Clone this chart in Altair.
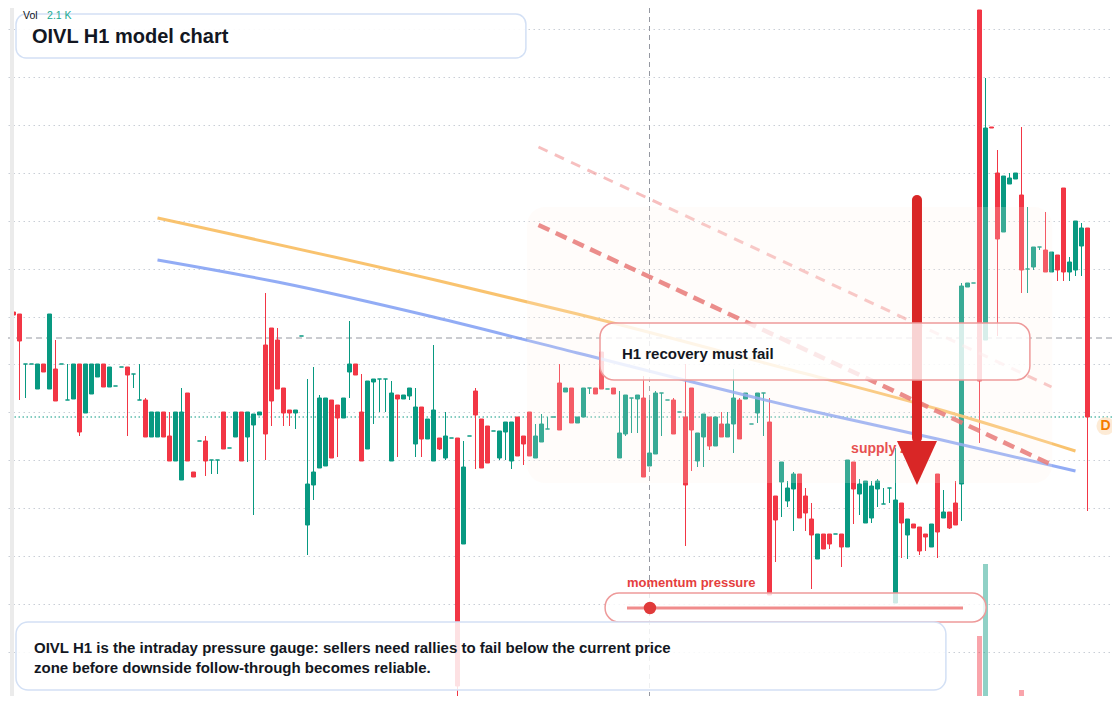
import altair as alt
import pandas as pd

# --- candles (H1 bars, index 0..179), prices ---
opens = [
    4.88, 4.86, 4.36, 4.36, 4.11, 4.36, 4.11, 4.31, 4.36, 4.00,
    4.01, 4.36, 3.87, 4.06, 4.23, 4.36, 4.13, 4.14, 4.33, 4.33,
    4.26, 4.00, 4.00, 3.63, 3.63, 3.88, 3.64, 3.39, 3.20, 4.07,
    3.28, 3.59, 3.59, 3.40, 3.40, 3.88, 3.52, 3.63, 3.88, 3.63,
    3.75, 3.85, 4.55, 4.72, 4.60, 4.12, 3.90, 3.87, 4.64, 2.75,
    3.15, 3.32, 3.34, 4.00, 3.95, 3.82, 4.28, 4.36, 3.88, 3.51,
    4.18, 4.21, 4.21, 3.39, 4.05, 4.01, 4.04, 3.56, 3.93, 3.61,
    3.39, 3.62, 3.42, 3.62, 3.62, 2.56, 3.64, 4.09, 3.81, 3.74,
    3.69, 3.42, 3.68, 3.39, 3.83, 3.64, 3.88, 3.42, 3.58, 3.71,
    3.83, 4.17, 4.08, 4.12, 3.77, 3.83, 4.12, 4.12, 4.48, 4.11,
    4.12, 3.42, 3.66, 4.02, 4.01, 4.02, 3.34, 3.46, 4.07, 4.00,
    4.00, 3.88, 3.83, 4.12, 3.39, 3.63, 3.83, 3.54, 3.76, 3.63,
    3.76, 4.00, 4.01, 3.76, 3.87, 4.07, 3.78, 3.04, 3.18, 2.99,
    3.11, 3.26, 3.04, 2.81, 2.41, 2.66, 2.66, 2.66, 2.66, 2.53,
    3.38, 3.06, 2.77, 2.82, 3.11, 2.96, 3.12, 1.97, 2.97, 2.65,
    2.76, 2.73, 2.66, 2.53, 3.26, 2.82, 2.88, 2.97, 3.16, 5.13,
    5.17, 7.90, 4.60, 6.73, 6.27, 5.68, 6.16, 6.21, 6.05, 5.31,
    5.33, 5.53, 5.50, 5.28, 5.45, 6.12, 5.28, 5.30, 5.54, 5.72,
]
closes = [
    4.85, 4.59, 4.36, 4.36, 4.36, 4.28, 4.86, 3.99, 4.36, 4.00,
    4.36, 3.68, 4.36, 4.36, 4.36, 4.13, 4.33, 4.14, 4.33, 4.25,
    4.26, 4.00, 3.63, 3.88, 3.88, 3.63, 3.39, 3.88, 3.88, 3.39,
    3.23, 3.59, 3.39, 3.40, 3.40, 3.51, 3.52, 3.88, 3.39, 3.88,
    3.86, 3.88, 3.66, 3.99, 4.11, 3.87, 3.87, 3.90, 4.64, 3.16,
    3.28, 4.02, 4.02, 3.42, 3.82, 4.02, 4.36, 4.25, 3.39, 4.19,
    4.21, 4.21, 4.21, 4.07, 4.01, 4.05, 4.12, 3.93, 3.61, 3.81,
    3.90, 3.51, 3.64, 3.62, 1.14, 3.33, 3.64, 3.85, 3.32, 3.37,
    3.69, 3.69, 3.78, 3.78, 3.44, 3.56, 3.44, 3.64, 3.76, 3.71,
    3.83, 3.70, 4.12, 3.77, 3.83, 4.12, 4.12, 4.06, 4.11, 4.11,
    4.06, 3.67, 4.05, 4.02, 4.05, 3.23, 3.47, 4.07, 4.07, 4.00,
    3.66, 3.88, 3.15, 3.70, 3.67, 3.86, 3.54, 3.83, 3.63, 3.76,
    4.02, 3.61, 4.07, 3.76, 4.07, 4.07, 2.05, 2.80, 3.38, 3.12,
    3.26, 2.82, 2.87, 2.65, 2.66, 2.51, 2.56, 2.66, 2.53, 3.40,
    3.11, 3.16, 3.19, 3.14, 3.19, 2.96, 3.12, 3.00, 2.77, 2.81,
    2.72, 2.49, 2.63, 2.76, 2.68, 2.88, 2.72, 2.75, 5.14, 5.17,
    5.17, 4.19, 6.72, 6.72, 5.61, 6.24, 6.22, 6.27, 5.30, 5.31,
    5.53, 5.53, 5.28, 5.48, 5.30, 5.28, 5.38, 5.79, 5.72, 3.83,
]
highs = [
    4.88, 4.86, 4.36, 4.36, 4.36, 4.36, 4.86, 4.60, 4.36, 4.36,
    4.36, 4.36, 4.36, 4.36, 4.36, 4.36, 4.33, 4.14, 4.33, 4.33,
    4.26, 4.36, 4.02, 3.88, 3.88, 3.88, 3.88, 3.88, 4.12, 4.07,
    3.28, 3.59, 3.64, 3.40, 3.40, 3.88, 3.52, 3.88, 3.88, 3.88,
    3.86, 3.88, 5.07, 4.72, 4.72, 4.12, 3.90, 3.90, 4.64, 4.21,
    4.33, 4.05, 4.02, 4.00, 3.95, 4.02, 4.79, 4.36, 4.26, 4.19,
    4.21, 4.21, 4.21, 4.19, 4.05, 4.05, 4.12, 4.12, 3.93, 3.81,
    4.55, 3.62, 3.88, 3.62, 3.62, 3.59, 3.64, 4.12, 3.81, 3.74,
    3.69, 3.69, 3.78, 3.78, 3.83, 3.64, 3.88, 3.76, 3.86, 3.83,
    3.83, 4.36, 4.12, 4.12, 3.83, 4.12, 4.12, 4.12, 4.48, 4.11,
    4.12, 4.09, 4.05, 4.02, 4.05, 4.24, 4.00, 4.09, 4.07, 4.00,
    4.02, 3.88, 4.36, 4.12, 3.67, 3.86, 3.83, 3.83, 3.88, 3.88,
    4.31, 4.02, 4.07, 3.76, 4.07, 4.07, 4.02, 3.04, 3.38, 3.19,
    3.28, 3.26, 3.12, 2.97, 2.66, 2.66, 2.66, 2.66, 2.66, 3.40,
    3.38, 3.21, 3.19, 3.19, 3.21, 3.12, 3.12, 3.52, 2.97, 2.81,
    2.76, 2.73, 2.66, 2.76, 3.26, 3.10, 2.88, 3.19, 5.17, 5.17,
    5.17, 7.90, 7.22, 6.73, 6.50, 6.24, 6.27, 6.27, 6.73, 5.93,
    5.53, 5.53, 5.88, 5.48, 5.45, 6.12, 5.43, 5.79, 5.77, 5.72,
]
lows = [
    4.85, 4.00, 4.02, 4.36, 4.11, 4.28, 4.11, 3.99, 4.36, 4.00,
    4.01, 3.64, 3.87, 4.06, 4.23, 4.13, 4.13, 4.14, 4.33, 3.64,
    4.12, 4.00, 3.63, 3.63, 3.63, 3.63, 3.39, 3.39, 3.20, 3.39,
    3.23, 3.59, 3.24, 3.26, 3.26, 3.51, 3.52, 3.63, 3.39, 3.38,
    2.85, 3.85, 3.40, 3.74, 4.11, 3.74, 3.74, 3.71, 4.64, 2.45,
    3.00, 3.32, 3.34, 3.42, 3.43, 3.82, 4.02, 4.25, 3.39, 3.51,
    3.76, 3.88, 3.88, 3.39, 3.43, 4.01, 4.00, 3.43, 3.43, 3.61,
    3.39, 3.50, 3.40, 3.62, 1.00, 2.56, 3.64, 3.31, 3.32, 3.37,
    3.69, 3.40, 3.40, 3.31, 3.44, 3.35, 3.44, 3.42, 3.58, 3.71,
    3.83, 3.70, 4.08, 3.77, 3.77, 3.83, 4.06, 4.06, 4.11, 4.11,
    4.06, 3.42, 3.64, 3.67, 3.67, 3.23, 3.34, 3.46, 3.64, 4.00,
    3.66, 3.88, 2.54, 3.29, 3.33, 3.33, 3.50, 3.54, 3.63, 3.63,
    3.47, 3.61, 4.01, 3.76, 3.77, 3.64, 2.05, 2.38, 2.83, 2.93,
    2.69, 2.82, 2.69, 2.11, 2.41, 2.51, 2.51, 2.66, 2.33, 2.53,
    2.76, 2.85, 2.77, 2.77, 2.93, 2.96, 2.97, 1.97, 2.42, 2.41,
    2.72, 2.45, 2.49, 2.53, 2.42, 2.82, 2.71, 2.75, 2.79, 5.13,
    5.17, 3.57, 4.60, 6.72, 4.64, 5.68, 6.16, 6.21, 5.07, 5.07,
    5.30, 5.50, 5.28, 5.28, 5.19, 5.19, 5.19, 5.24, 5.24, 2.89,
]

# volume (K) for the bars that reach into view
vol_idx = [161, 162, 164, 168, 169]
vol_k = [6.8, 14.0, 0.4, 1.4, 0.6]

# time-axis session lines and price-scale levels
time_grid = [7, 21, 42, 56, 70, 84, 98, 112, 126, 140, 154, 168]
price_grid = [7.71, 7.23, 6.75, 6.27, 5.79, 5.31, 4.83, 4.36, 3.88, 3.40,
              2.92, 2.44, 1.96, 1.48, 1.00]

crosshair_idx = 106
crosshair_price = 4.62
last_price = 3.83

# model curves
orange_idx = [24, 71, 94, 129, 154, 177]
orange_val = [5.82, 5.19, 4.86, 4.31, 3.91, 3.49]
blue_idx = [24, 44, 70, 94, 133, 154, 177]
blue_val = [5.40, 5.18, 4.83, 4.47, 3.89, 3.61, 3.29]

# trend lines (start / end)
trend_idx = [87.5, 173.5]
trend_val = [5.75, 3.34]
upper_idx = [87.5, 173.0]
upper_val = [6.53, 4.13]

TEAL = "#089981"
RED = "#f23645"
FONT = "Liberation Sans"
INK = "#131722"

xs = alt.Scale(domain=[-0.9167, 183.0833], nice=False, zero=False, padding=0)
ys = alt.Scale(domain=[1.04, 7.92], nice=False, zero=False, padding=0)
dir_scale = alt.Scale(domain=["up", "down"], range=[TEAL, RED])

candles = pd.DataFrame({
    "i": list(range(len(opens))),
    "open": opens, "high": highs, "low": lows, "close": closes,
})
candles["dir"] = ["up" if c >= o else "down" for o, c in zip(opens, closes)]

vol = pd.DataFrame({"i": vol_idx, "v": vol_k})
vol["dir"] = [candles.loc[i, "dir"] for i in vol_idx]


def X(field="i"):
    return alt.X(f"{field}:Q", scale=xs, axis=None)


def Y(field):
    return alt.Y(f"{field}:Q", scale=ys, axis=None)


def box(x0, x1, p0, p1):
    return pd.DataFrame({"x0": [x0], "x1": [x1], "p0": [p0], "p1": [p1]})


def rect(df, **kw):
    return alt.Chart(df).mark_rect(**kw).encode(
        x=X("x0"), x2="x1", y=Y("p0"), y2="p1"
    )


def label(x, p, txt, **kw):
    df = pd.DataFrame({"x": [x], "p": [p], "t": [txt]})
    return alt.Chart(df).mark_text(
        align="left", baseline="alphabetic", font=FONT, **kw
    ).encode(x=X("x"), y=Y("p"), text="t:N")


# grid (axes only, no labels)
grid = alt.Chart(pd.DataFrame({"i": [0], "p": [4.0]})).mark_point(opacity=0).encode(
    x=alt.X("i:Q", scale=xs, axis=alt.Axis(
        values=time_grid, grid=True, gridDash=[1.5, 3.5], gridColor="#c9ced6",
        labels=False, ticks=False, domain=False, title=None)),
    y=alt.Y("p:Q", scale=ys, axis=alt.Axis(
        values=price_grid, grid=True, gridDash=[1.5, 3.5], gridColor="#c9ced6",
        labels=False, ticks=False, domain=False, title=None)),
)

cross_v = alt.Chart(pd.DataFrame({"i": [crosshair_idx]})).mark_rule(
    color="#9598a1", strokeDash=[5, 4], strokeWidth=1).encode(x=X())
cross_h = alt.Chart(pd.DataFrame({"p": [crosshair_price]})).mark_rule(
    color="#9598a1", strokeDash=[6, 4], strokeWidth=1).encode(y=Y("p"))
price_line = alt.Chart(pd.DataFrame({"p": [last_price]})).mark_rule(
    color=TEAL, strokeDash=[1.5, 2.5], strokeWidth=1).encode(y=Y("p"))

wicks = alt.Chart(candles).mark_rule(strokeWidth=1).encode(
    x=X(), y=Y("low"), y2="high",
    color=alt.Color("dir:N", scale=dir_scale, legend=None),
)
bodies = alt.Chart(candles).mark_bar(size=4, strokeWidth=1).encode(
    x=X(), y=Y("open"), y2="close",
    color=alt.Color("dir:N", scale=dir_scale, legend=None),
    stroke=alt.Stroke("dir:N", scale=dir_scale, legend=None),
)

volume = alt.Chart(vol).mark_bar(size=5, opacity=0.45, clip=True).encode(
    x=X(),
    y=alt.Y("v:Q", scale=alt.Scale(domain=[0.8, 69.6], nice=False, zero=False, padding=0),
            axis=None),
    y2=alt.datum(0),
    color=alt.Color("dir:N", scale=dir_scale, legend=None),
)

left_strip = alt.Chart(pd.DataFrame({"x0": [-0.58], "x1": [0.08]})).mark_rect(
    color="#ebebeb").encode(x=X("x0"), x2="x1")

orange = alt.Chart(pd.DataFrame({"i": orange_idx, "p": orange_val})).mark_line(
    color="#f8bd5f", strokeWidth=3, interpolate="monotone", opacity=0.9
).encode(x=X(), y=Y("p"))
blue = alt.Chart(pd.DataFrame({"i": blue_idx, "p": blue_val})).mark_line(
    color="#7f9ef3", strokeWidth=3, interpolate="monotone", opacity=0.85
).encode(x=X(), y=Y("p"))
trend = alt.Chart(pd.DataFrame({"i": trend_idx, "p": trend_val})).mark_line(
    color="#e35d5d", strokeWidth=4.5, strokeDash=[12, 7], opacity=0.85
).encode(x=X(), y=Y("p"))
upper = alt.Chart(pd.DataFrame({"i": upper_idx, "p": upper_val})).mark_line(
    color="#ef8080", strokeWidth=3, strokeDash=[10, 8], opacity=0.5
).encode(x=X(), y=Y("p"))

zone = rect(box(85.6, 173.1, 5.93, 3.17), color="#fdf0e4", opacity=0.2, cornerRadius=18)

supply = label(139.6, 3.47, "supply zone", fontSize=14, fontWeight="bold",
               color="#e53e3e", opacity=0.9)
shaft = alt.Chart(pd.DataFrame({"i": [150.58], "p0": [6.00], "p1": [3.62]})).mark_rule(
    color="#d92626", strokeWidth=10, strokeCap="round").encode(x=X(), y=Y("p0"), y2="p1")
head = alt.Chart(pd.DataFrame({"i": [150.58], "p": [3.37]})).mark_point(
    shape="M-1,-1.1L1,-1.1L0,1.1Z", size=1600, filled=True, opacity=1,
    color="#d92626").encode(x=X(), y=Y("p"))

title_box = rect(box(0.42, 85.4, 7.86, 7.42), fill="white", fillOpacity=0.9,
                 stroke="#d3e0f5", strokeWidth=1.5, cornerRadius=10)
title = label(3.08, 7.57, "OIVL H1 model chart", fontSize=20, fontWeight="bold", color=INK)

h1_box = rect(box(97.75, 169.4, 4.77, 4.20), fill="white", fillOpacity=0.8,
              stroke="#ee9a9a", strokeWidth=1.5, cornerRadius=14)
h1_text = label(101.4, 4.41, "H1 recovery must fail", fontSize=15, fontWeight="bold", color=INK)

mom_text = label(102.25, 2.13, "momentum pressure", fontSize=13, fontWeight="bold", color="#e53e3e")
slider_box = rect(box(98.6, 162.1, 2.07, 1.78), fill="white", fillOpacity=0.8,
                  stroke="#ee9a9a", strokeWidth=1.5, cornerRadius=14)
slider = alt.Chart(pd.DataFrame({"x0": [102.25], "x1": [158.25], "p": [1.92]})).mark_rule(
    color="#ee8080", strokeWidth=3, opacity=0.9).encode(x=X("x0"), x2="x1", y=Y("p"))
knob = alt.Chart(pd.DataFrame({"i": [106.08], "p": [1.92]})).mark_circle(
    size=154, color="#e03a3a", opacity=1).encode(x=X(), y=Y("p"))

note_box = rect(box(0.42, 155.4, 1.78, 1.10), fill="white", fillOpacity=0.85,
                stroke="#d3e0f5", strokeWidth=1.5, cornerRadius=12)
note1 = label(3.42, 1.47, "OIVL H1 is the intraday pressure gauge: sellers need rallies to fail below the current price",
              fontSize=15, fontWeight="bold", color=INK)
note2 = label(3.42, 1.27, "zone before downside follow-through becomes reliable.",
              fontSize=15, fontWeight="bold", color=INK)

vol_lbl = label(1.58, 7.815, "Vol", fontSize=10.5, color=INK)
vol_val = label(5.6, 7.815, "2.1 K", fontSize=10.5, color="#22ab94")

d_bg = alt.Chart(pd.DataFrame({"i": [182.0], "p": [3.74]})).mark_circle(
    size=330, color="#fde6cc", opacity=0.8).encode(x=X(), y=Y("p"))
d_txt = alt.Chart(pd.DataFrame({"i": [182.0], "p": [3.74], "t": ["D"]})).mark_text(
    font=FONT, fontSize=14, fontWeight="bold", color="#f57c00", align="center",
    baseline="middle").encode(x=X(), y=Y("p"), text="t:N")

chart = alt.layer(
    grid, cross_v, cross_h, price_line, wicks, bodies, volume, left_strip,
    orange, blue, upper, trend, zone, supply, shaft, head,
    title_box, title, h1_box, h1_text, mom_text, slider_box, slider, knob,
    note_box, note1, note2, vol_lbl, vol_val, d_bg, d_txt,
).resolve_scale(y="independent").properties(
    width=1104, height=688, autosize=alt.AutoSizeParams(type="none"), padding=0,
    background="white",
).configure_view(strokeWidth=0)

chart.save("out.html", embed_options={"renderer": "svg", "actions": False})
